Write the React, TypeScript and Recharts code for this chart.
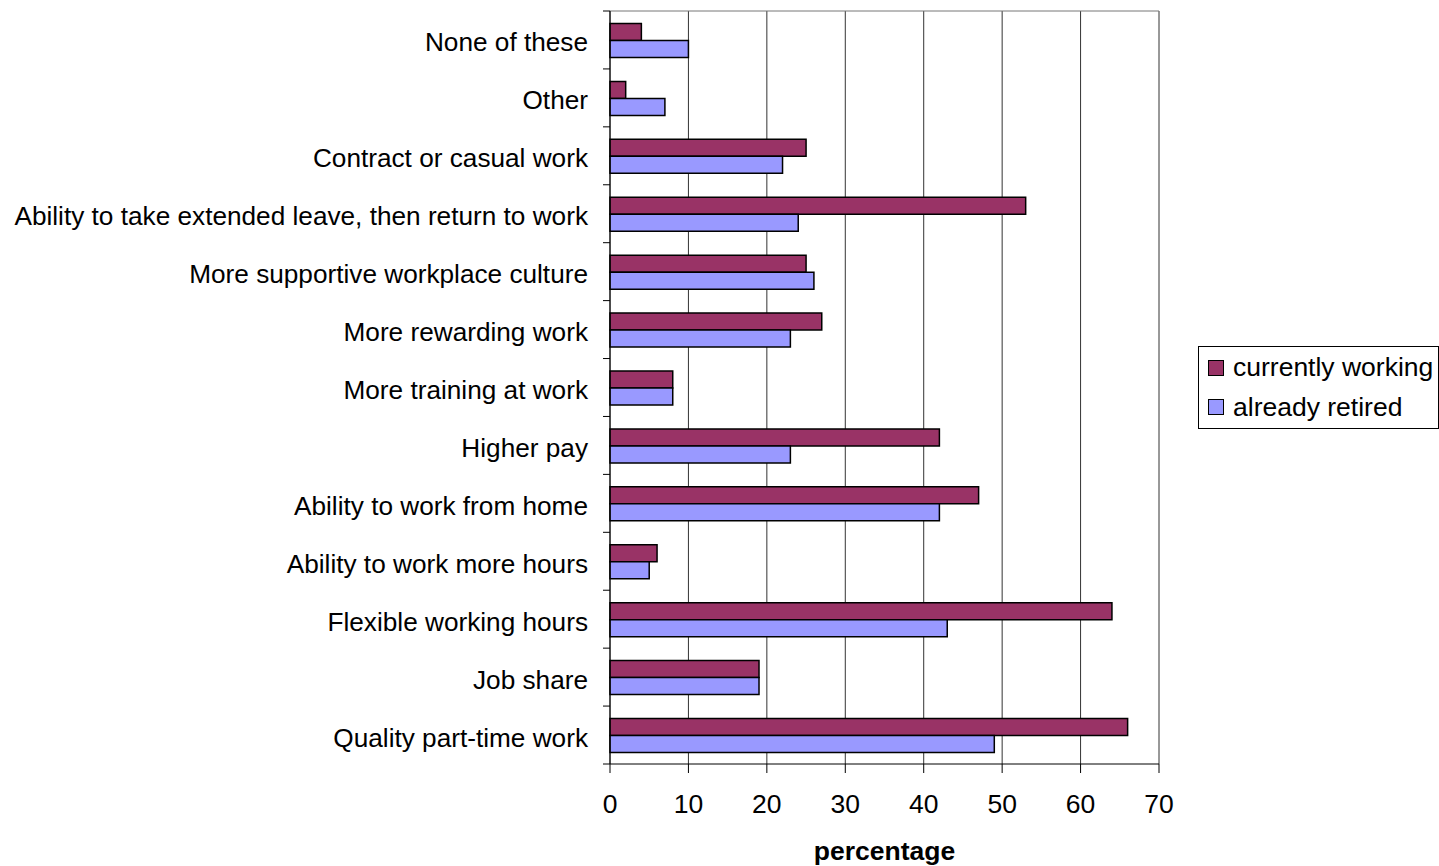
import * as React from 'react'
import {
  BarChart,
  Bar,
  XAxis,
  YAxis,
  CartesianGrid,
  Legend,
  Label,
} from 'recharts'

const categories = [
  'None of these',
  'Other',
  'Contract or casual work',
  'Ability to take extended leave, then return to work',
  'More supportive workplace culture',
  'More rewarding work',
  'More training at work',
  'Higher pay',
  'Ability to work from home',
  'Ability to work more hours',
  'Flexible working hours',
  'Job share',
  'Quality part-time work',
]

const currentlyWorking = [4, 2, 25, 53, 25, 27, 8, 42, 47, 6, 64, 19, 66]
const alreadyRetired = [10, 7, 22, 24, 26, 23, 8, 23, 42, 5, 43, 19, 49]

const xTicks = [0, 10, 20, 30, 40, 50, 60, 70]

const SERIES = [
  { key: 'working', name: 'currently working', color: '#993366' },
  { key: 'retired', name: 'already retired', color: '#9999FF' },
]

const FONT = '"Liberation Sans", Arial, sans-serif'
const FONT_SIZE = 26.5
const CAT_FONT_SIZE = 26.2
const WIDTH = 1439
const HEIGHT = 866
const MARGIN = { top: 10, right: 280, bottom: 0, left: 0 }
const Y_AXIS_W = 610
const X_AXIS_H = 102
const BAND = (HEIGHT - MARGIN.top - 1 - X_AXIS_H) / categories.length

const data = categories.map((name, i) => ({
  name,
  working: currentlyWorking[i],
  retired: alreadyRetired[i],
}))

// category label plus a tick mark on the band boundary (Excel style)
function CategoryTick(props: any) {
  const { x, y, payload, index } = props
  const half = payload?.offset || BAND / 2
  const last = index === categories.length - 1
  return (
    <g>
      <line x1={x - 7} x2={x} y1={y - half} y2={y - half} stroke="#000" />
      {last && <line x1={x - 7} x2={x} y1={y + half} y2={y + half} stroke="#000" />}
      <text
        x={x - 22}
        y={y}
        dy="0.44em"
        textAnchor="end"
        fontSize={CAT_FONT_SIZE}
        fontFamily={FONT}
        fill="#000"
      >
        {payload.value}
      </text>
    </g>
  )
}

function LegendBox() {
  return (
    <div
      style={{
        border: '1px solid #000',
        background: '#fff',
        padding: '1px 4px 1px 9px',
        fontFamily: FONT,
        fontSize: FONT_SIZE,
        lineHeight: '39.5px',
        width: 226,
      }}
    >
      {SERIES.map(s => (
        <div key={s.key} style={{ display: 'flex', alignItems: 'center', whiteSpace: 'nowrap' }}>
          <span
            style={{
              display: 'inline-block',
              width: 14,
              height: 14,
              background: s.color,
              border: '1.5px solid #000',
              marginRight: 9,
            }}
          />
          {s.name}
        </div>
      ))}
    </div>
  )
}

export default function App() {
  return (
    <div style={{ position: 'absolute', left: 0, top: 0, background: '#fff' }}>
      <BarChart
        width={WIDTH}
        height={HEIGHT}
        data={data}
        layout="vertical"
        margin={MARGIN}
        barCategoryGap="21.5%"
        barGap={0}
      >
        <CartesianGrid horizontal={false} stroke="#333" strokeOpacity={1} />
        {/* plot-area top border */}
        <XAxis
          xAxisId="top"
          orientation="top"
          type="number"
          domain={[0, 70]}
          height={1}
          tick={false}
          tickLine={false}
          axisLine={{ stroke: '#777' }}
        />
        <XAxis
          type="number"
          domain={[0, 70]}
          ticks={xTicks}
          height={X_AXIS_H}
          tickSize={9}
          tickMargin={21}
          axisLine={{ stroke: '#000' }}
          tickLine={{ stroke: '#000' }}
          tick={{ fontSize: FONT_SIZE, fontFamily: FONT, fill: '#000' }}
        >
          <Label
            value="percentage"
            position="insideBottom"
            offset={6}
            style={{ fontSize: FONT_SIZE, fontWeight: 'bold', fontFamily: FONT, fill: '#000' }}
          />
        </XAxis>
        <YAxis
          type="category"
          dataKey="name"
          width={Y_AXIS_W}
          interval={0}
          tickLine={false}
          tickSize={0}
          tickMargin={0}
          axisLine={{ stroke: '#000' }}
          tick={<CategoryTick />}
        />
        <Legend
          layout="vertical"
          align="center"
          verticalAlign="middle"
          wrapperStyle={{ left: 1198, top: 346, width: 'auto' }}
          content={() => <LegendBox />}
        />
        {SERIES.map(s => (
          <Bar
            key={s.key}
            dataKey={s.key}
            name={s.name}
            fill={s.color}
            stroke="#000"
            strokeWidth={1.5}
            isAnimationActive={false}
          />
        ))}
      </BarChart>
    </div>
  )
}
